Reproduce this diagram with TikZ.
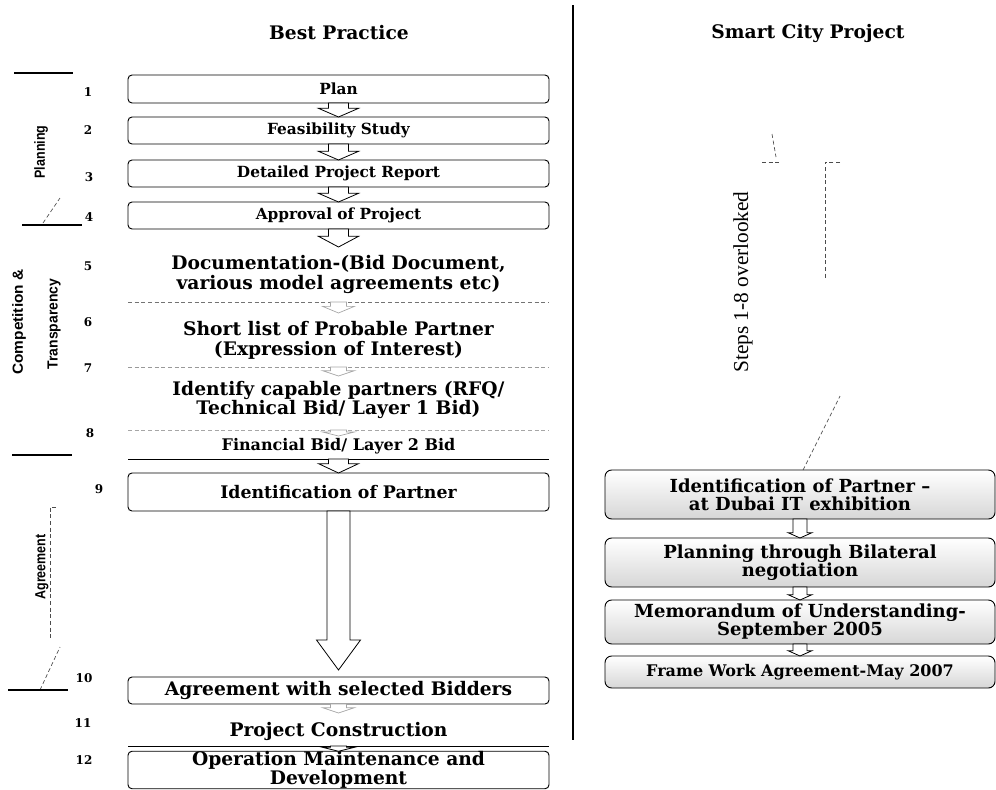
\documentclass[tikz,border=0pt]{standalone}
\usepackage{fontspec}
\usepackage{graphicx}
\setmainfont{DejaVu Serif}
\newfontfamily\stepsfont{Liberation Serif}
\newfontfamily\sidefont{Liberation Sans}
\usetikzlibrary{calc}
\newcommand\myfs[2]{\fontsize{#1}{#2}\selectfont}
% block arrow: [style]{from}{to}{shaft half}{head half}{head length}
\newcommand\blockarrow[6][]{%
  \draw[blk,#1] let \p1=(#2), \p2=(#3) in
    (\x1-#4,\y1) -- (\x1-#4,\y2+#6) -- (\x1-#5,\y2+#6) -- (\x1,\y2)
    -- (\x1+#5,\y2+#6) -- (\x1+#4,\y2+#6) -- (\x1+#4,\y1) -- cycle;}
\tikzset{
  every node/.style={inner sep=0pt, outer sep=0pt},
  lbox/.style={draw, line width=0.7pt, rounded corners=3pt, fill=white,
    minimum width=315.75pt, align=center},
  ltext/.style={minimum width=315.75pt, align=center},
  rbox/.style={draw, line width=0.7pt, rounded corners=5pt, top color=white,
    bottom color=black!16, minimum width=292.5pt, align=center,
    font={\bfseries\myfs{13.5}{13.5}}},
  numlbl/.style={font={\bfseries\myfs{9}{10}}},
  blk/.style={draw, fill=white, line width=0.6pt, line join=miter},
  faintblk/.style={draw=black!35, line width=0.5pt},
  stepline/.style={line width=0.6pt},
  fadedline/.style={densely dashed, line width=0.5pt, black!55},
  sidelbl/.style={font={\sidefont\bfseries\myfs{11}{11}}, rotate=90},
  brk/.style={line width=0.8pt},
  dbrk/.style={densely dashed, line width=0.5pt, black!70},
  ttl/.style={font={\bfseries\myfs{14}{14}}}
}
\begin{document}
\begin{tikzpicture}[x=0.75pt,y=-0.75pt]
\useasboundingbox (0,0) rectangle (996,789);

% divider
\draw[line width=0.9pt] (573,5) -- (573,740);

% titles
\node[ttl] (t1) at (339,33) {Best Practice};
\node[ttl] (t2) at (808,33) {Smart City Project};

% left column
\node[lbox, minimum height=21pt, font={\bfseries\myfs{11.5}{12}}] (b1) at (338.5,89) {Plan};
\node[lbox, minimum height=20.25pt, font={\bfseries\myfs{11.5}{12}}] (b2) at (338.5,130.5) {Feasibility Study};
\node[lbox, minimum height=20.25pt, font={\bfseries\myfs{11.5}{12}}] (b3) at (338.5,173.5) {Detailed Project Report};
\node[lbox, minimum height=20.25pt, font={\bfseries\myfs{11.5}{12}}] (b4) at (338.5,215.5) {Approval of Project};
\node[ltext, minimum height=41.25pt, font={\bfseries\myfs{14}{15}}] (s5) at (338.5,274.5) {Documentation-(Bid Document,\\various model agreements etc)};
\node[ltext, minimum height=40.5pt, font={\bfseries\myfs{14}{15}}] (s6) at (338.5,340) {Short list of Probable Partner\\(Expression of Interest)};
\node[ltext, minimum height=45pt, font={\bfseries\myfs{14}{14}}] (s7) at (338.5,400) {Identify capable partners (RFQ/\\Technical Bid/ Layer 1 Bid)};
\node[ltext, minimum height=19.5pt, font={\bfseries\myfs{12}{12}}] (s8) at (338.5,446) {Financial Bid/ Layer 2 Bid};
\node[lbox, minimum height=28.5pt, font={\bfseries\myfs{13}{13}}] (b9) at (338.5,492) {Identification of Partner};
\node[lbox, minimum height=20.25pt, font={\bfseries\myfs{14}{14}}] (b10) at (338.5,690.5) {Agreement with selected Bidders};
\node[ltext, minimum height=22.5pt, font={\bfseries\myfs{14}{14}}] (s11) at (338.5,731) {Project Construction};
\node[lbox, minimum height=27pt, font={\bfseries\myfs{14}{13.5}}] (b12) at (338.5,770) {Operation Maintenance and\\Development};

% lines under the unboxed steps
\draw[fadedline] (s5.south west) -- (s5.south east);
\draw[fadedline, black!40] (s6.south west) -- (s6.south east);
\draw[fadedline, black!35] (s7.south west) -- (s7.south east);
\draw[stepline] (s8.south west) -- (s8.south east);
\draw[stepline] (s11.south west) -- (s11.south east);

% step numbers
\node[numlbl] (n1) at (88,92) {1};
\node[numlbl] (n2) at (88,130) {2};
\node[numlbl] (n3) at (89,177) {3};
\node[numlbl] (n4) at (89,217) {4};
\node[numlbl] (n5) at (88,266) {5};
\node[numlbl] (n6) at (88,322) {6};
\node[numlbl] (n7) at (88,368) {7};
\node[numlbl] (n8) at (90,433) {8};
\node[numlbl] (n9) at (99,489) {9};
\node[numlbl] (n10) at (84,678) {10};
\node[numlbl] (n11) at (83,723) {11};
\node[numlbl] (n12) at (84,760) {12};

% arrows, left column
\blockarrow{b1.south}{b2.north}{7.5pt}{15pt}{6.5pt}
\blockarrow{b2.south}{b3.north}{7.5pt}{15pt}{6.5pt}
\blockarrow{b3.south}{b4.north}{7.5pt}{15pt}{6.5pt}
\blockarrow{b4.south}{s5.north}{7.5pt}{15pt}{8pt}
\blockarrow[faintblk]{s5.south}{$(s5.south)+(0,11)$}{6pt}{12pt}{5pt}
\blockarrow[faintblk]{s6.south}{$(s6.south)+(0,9)$}{6pt}{12pt}{4pt}
\blockarrow[faintblk]{s7.south}{$(s7.south)+(0,6)$}{6pt}{12pt}{3pt}
\blockarrow{s8.south}{b9.north}{7.5pt}{15pt}{7pt}
\blockarrow{b9.south}{$(b10.north)+(0,-7)$}{8.6pt}{16.5pt}{22.5pt}
\blockarrow[faintblk]{b10.south}{$(b10.south)+(0,9)$}{6pt}{12pt}{4pt}
\blockarrow{s11.south}{b12.north}{6pt}{12pt}{3pt}

% side brackets
\draw[brk] (14,73) -- (73,73);
\node[sidelbl] (planning) at (41,152) {\scalebox{0.85}[1]{Planning}};
\draw[dbrk] (43,223) -- (60,198);
\draw[brk] (22,225) -- (82,225);
\node[sidelbl] (comp) at (19,322) {\scalebox{1.05}[1]{Competition \&}};
\node[sidelbl] (transp) at (54,324) {\scalebox{0.95}[1]{Transparency}};
\draw[brk] (12,455) -- (72,455);
\node[sidelbl] (agree) at (42,567) {\scalebox{0.85}[1]{Agreement}};
\draw[dbrk] (56,507) -- (50,507) -- (50,640);
\draw[dbrk] (40,690) -- (60,647);
\draw[brk] (8,690) -- (68,690);

% right column
\node[rotate=90, font={\stepsfont\myfs{16}{16}}] (steps) at (743,282) {Steps 1-8 overlooked};
\draw[dbrk] (762,162) -- (780,162);
\draw[dbrk] (772,134) -- (776,157);
\draw[dbrk] (840,162) -- (825,162) -- (825,278);

\node[rbox, minimum height=36.75pt] (r1) at (800,494.5) {Identification of Partner --\\at Dubai IT exhibition};
\node[rbox, minimum height=36.75pt] (r2) at (800,562.5) {Planning through Bilateral\\negotiation};
\node[rbox, minimum height=33pt] (r3) at (800,622) {Memorandum of Understanding-\\September 2005};
\node[rbox, minimum height=24pt, font={\bfseries\myfs{12}{12}}] (r4) at (800,672) {Frame Work Agreement-May 2007};
\draw[dbrk] ($(r1.north)+(3,0)$) -- (840,396);

\blockarrow{r1.south}{r2.north}{5.25pt}{9pt}{4pt}
\blockarrow{r2.south}{r3.north}{5.25pt}{9pt}{4pt}
\blockarrow{r3.south}{r4.north}{5.25pt}{9pt}{4pt}
\end{tikzpicture}
\end{document}
